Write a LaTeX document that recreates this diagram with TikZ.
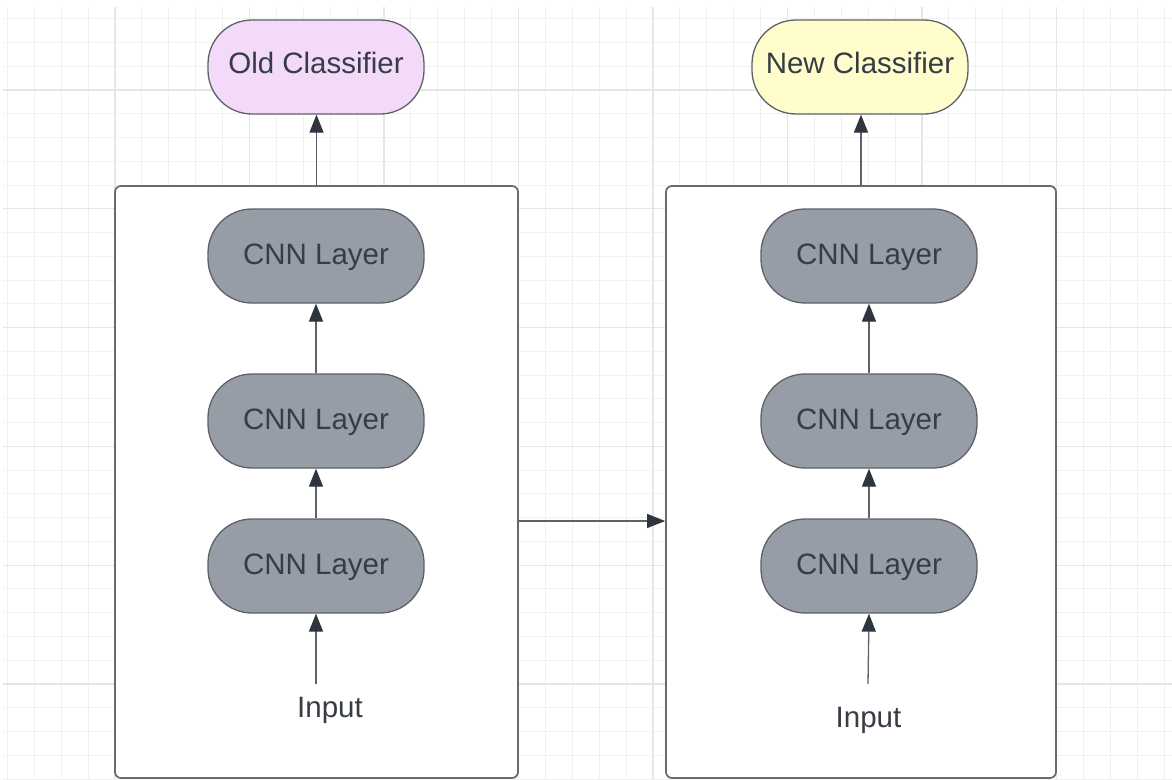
\documentclass[tikz,border=0pt]{standalone}
\usepackage{fontspec}
\setmainfont{Liberation Sans}
\usetikzlibrary{arrows.meta}
\definecolor{gridminor}{HTML}{F1F1F1}
\definecolor{gridmajor}{HTML}{E6E6E6}
\definecolor{edgegray}{HTML}{5F6166}
\definecolor{boxgray}{HTML}{6A6A6A}
\definecolor{textdark}{HTML}{373C45}
\definecolor{tipdark}{HTML}{2E353E}
\definecolor{cnnfill}{HTML}{979DA7}
\definecolor{oldfill}{HTML}{F3DAF8}
\definecolor{newfill}{HTML}{FEFDCB}
\tikzset{
  pill/.style={draw=edgegray, line width=1.3pt, rounded corners=44pt,
    minimum width=216pt, minimum height=94pt, inner sep=0pt,
    font=\fontsize{29.5}{35}\selectfont, text=textdark,
    text height=21pt, text depth=4pt},
  cnn/.style={pill, fill=cnnfill},
  container/.style={draw=boxgray, line width=1.7pt, fill=white, rounded corners=6pt, inner sep=0pt},
  arr/.style={draw=edgegray, line width=1.3pt,
    -{Triangle[length=18pt,width=14pt,color=tipdark]}},
  plain/.style={font=\fontsize{29.5}{35}\selectfont, text=textdark, inner sep=0pt,
    text height=21pt, text depth=0pt}
}
\begin{document}
\begin{tikzpicture}[x=1pt,y=-1pt]
\useasboundingbox (0,0) rectangle (1172,779);
\fill[white] (0,0) rectangle (1172,779);
% grid
\foreach \k in {0,...,43}{
  \pgfmathsetmacro{\gx}{7.4+26.9*\k}
  \pgfmathtruncatemacro{\m}{mod(\k+1,5)}
  \ifnum\m=0
    \draw[gridmajor, line width=1.2pt] (\gx,7) -- (\gx,779);
  \else
    \draw[gridminor, line width=0.9pt] (\gx,7) -- (\gx,779);
  \fi
}
\foreach \k in {0,...,32}{
  \pgfmathsetmacro{\gy}{18.7+23.76*\k}
  \pgfmathtruncatemacro{\m}{mod(\k+2,5)}
  \ifnum\m=0
    \draw[gridmajor, line width=1.2pt] (3,\gy) -- (1172,\gy);
  \else
    \draw[gridminor, line width=0.9pt] (3,\gy) -- (1172,\gy);
  \fi
}
% containers
\node[container, minimum width=403pt, minimum height=592pt] (lbox) at (316.5,482) {};
\node[container, minimum width=390pt, minimum height=592pt] (rbox) at (861,482) {};
% classifiers
\node[pill, fill=oldfill, text depth=9pt] (oldc) at (316,67) {Old Classifier};
\node[pill, fill=newfill, text depth=9pt] (newc) at (860,67) {New Classifier};
% CNN layers
\node[cnn] (l1) at (316,256) {CNN Layer};
\node[cnn] (l2) at (316,421) {CNN Layer};
\node[cnn] (l3) at (316,566) {CNN Layer};
\node[cnn] (r1) at (869,256) {CNN Layer};
\node[cnn] (r2) at (869,421) {CNN Layer};
\node[cnn] (r3) at (869,566) {CNN Layer};
% inputs
\node[plain] (lin) at (330,706.5) {Input};
\node[plain] (rin) at (868.5,717) {Input};
\coordinate (lstart) at (316,684);
\coordinate (rstart) at (868,684);
% arrows
\draw[arr] (lstart) -- (l3.south);
\draw[arr] (l3.north) -- (l2.south);
\draw[arr] (l2.north) -- (l1.south);
\draw[arr] (rstart) -- (r3.south);
\draw[arr] (r3.north) -- (r2.south);
\draw[arr] (r2.north) -- (r1.south);
\draw[arr] (lbox.north) -- (lbox.north |- oldc.south);
\draw[arr] (rbox.north) -- (rbox.north |- newc.south);
\draw[arr] ([yshift=-39pt]lbox.east) -- ([yshift=-39pt]rbox.west);
\end{tikzpicture}
\end{document}
